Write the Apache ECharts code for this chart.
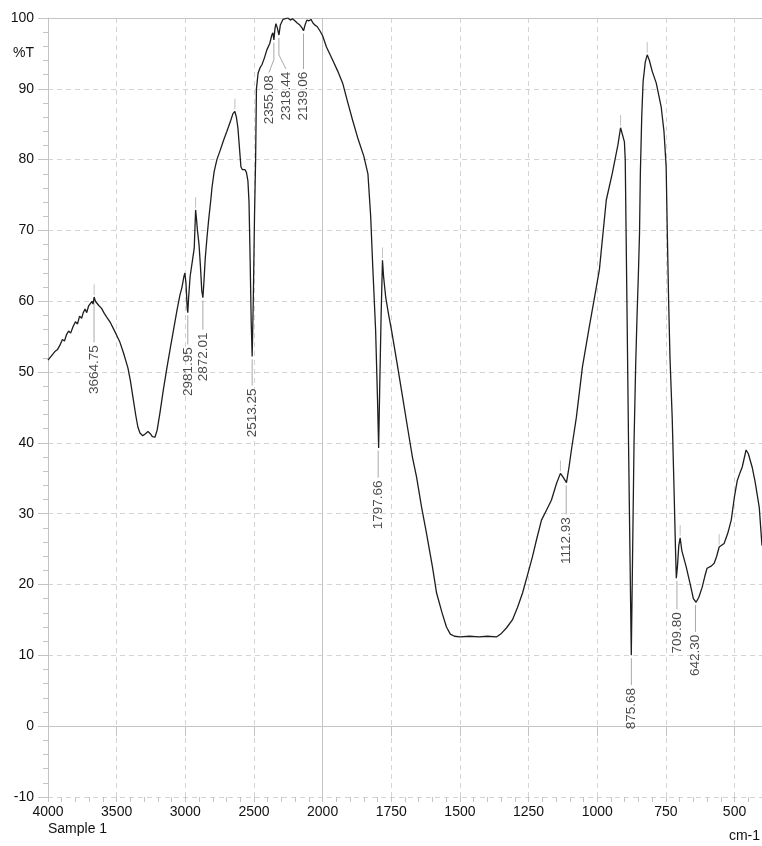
<!DOCTYPE html>
<html>
<head>
<meta charset="utf-8">
<script src="https://cdn.jsdelivr.net/npm/echarts@6/dist/echarts.min.js"></script>
<style>
html,body{margin:0;padding:0;background:#fff;}
#chart{width:762px;height:846px;}
</style>
</head>
<body>
<div id="chart"></div>
<script>
// spectrum, wavenumber (cm-1) and %T
var specWn = [4000,3975,3950,3930,3913,3895,3880,3865,3850,3835,3818,3800,3785,3770,3755,3745,3730,3718,3705,3694,3680,3672,3664,3655,3645,3630,3610,3590,3570,3549,3520,3500,3476,3450,3418,3400,3381,3360,3345,3330,3310,3290,3272,3255,3240,3221,3205,3185,3160,3134,3110,3090,3060,3040,3024,3010,3003,2995,2986,2982,2976,2965,2950,2935,2925,2918,2912,2900,2890,2880,2872,2865,2855,2843,2830,2815,2806,2790,2770,2748,2720,2697,2670,2653,2639,2628,2617,2605,2595,2585,2566,2555,2544,2536,2528,2520,2513,2505,2496,2488,2482,2470,2455,2442,2425,2406,2385,2370,2362,2355,2347,2340,2330,2318,2308,2289,2270,2253,2235,2220,2202,2185,2166,2150,2139,2128,2115,2100,2085,2070,2056,2040,2020,2000,1986,1964,1945,1927,1910,1891,1870,1850,1835,1825,1818,1807,1800,1796,1792,1787,1782,1778,1770,1760,1749,1730,1713,1690,1673,1658,1640,1622,1600,1585,1565,1549,1535,1520,1500,1465,1430,1400,1367,1349,1330,1309,1290,1272,1255,1236,1220,1203,1185,1167,1148,1134,1125,1112,1103,1094,1076,1054,1029,1010,992,967,945,925,915,908,901,898,895,891,886,881,876,871,866,860,855,850,846,843,838,833,825,818,810,800,785,767,757,749,745,740,735,727,720,715,712,708,703,698,692,676,660,650,640,630,618,608,600,585,574,565,556,538,525,512,500,490,480,472,465,458,450,436,425,410,400];
var specT = [51.7,52.3,52.9,53.2,53.8,54.6,54.4,55.3,55.8,55.5,56.4,57.1,56.8,57.9,57.6,58.3,58.9,58.4,59.3,59.1,60.0,59.6,60.6,60.0,60.2,59.4,59.0,58.3,57.7,57.1,56.0,55.2,54.2,52.7,50.6,48.8,46.4,43.8,42.2,41.4,41.0,41.3,41.6,41.3,40.9,40.8,41.8,44.2,47.5,50.6,53.3,55.5,58.8,60.8,62.0,63.5,64.0,62.5,59.0,58.4,60.5,63.5,65.5,67.5,72.9,71.5,70.1,68.0,65.0,61.5,60.5,62.5,66.0,68.8,71.5,74.2,76.0,78.3,80.0,81.2,82.8,84.0,85.5,86.5,86.8,86.0,84.5,81.5,79.0,78.6,78.6,78.2,77.0,74.0,66.0,57.0,52.2,60.0,72.0,80.0,90.0,92.2,93.0,93.4,94.3,95.5,96.4,97.6,97.9,96.9,98.5,99.2,98.6,97.6,99.0,99.8,99.9,100.0,99.7,99.9,99.6,99.3,99.0,98.6,98.2,99.0,99.7,99.6,99.8,99.3,99.0,98.8,98.2,97.5,95.9,94.1,92.5,90.8,88.3,85.6,82.8,80.5,78.0,72.0,65.4,55.9,46.0,39.3,48.0,58.0,65.8,63.5,60.5,58.2,55.9,51.5,47.5,42.0,38.0,35.2,31.0,27.3,22.5,18.8,16.0,14.0,13.0,12.7,12.6,12.7,12.6,12.7,12.6,13.1,13.9,15.0,16.8,18.8,21.2,23.9,26.5,29.1,30.5,31.9,34.3,35.7,35.2,34.4,36.5,39.0,43.6,50.7,56.4,60.5,64.5,74.3,78.1,82.0,84.5,84.3,82.5,80.0,70.0,57.0,40.0,25.0,10.0,25.0,40.0,51.0,58.0,64.0,69.6,78.0,86.0,91.0,93.8,94.8,94.0,92.5,90.8,87.4,84.0,79.0,70.0,60.0,52.0,43.6,33.0,25.0,20.9,22.5,25.5,26.6,24.8,22.5,19.8,18.0,17.5,18.2,19.6,21.2,22.3,22.6,23.0,24.0,25.3,25.8,27.2,29.1,32.5,34.7,35.8,36.6,37.8,39.0,38.5,36.6,34.5,30.9,25.5];

// peak annotations
var peakWn = [3664.75,2981.95,2872.01,2513.25,2355.08,2318.44,2139.06,1797.66,1112.93,875.68,709.80,642.30];
var peakT = [60.2,58.4,60.5,52.2,96.9,97.6,98.2,39.3,34.4,10.0,20.9,17.5];
var labelWn = [3664.75,2981.95,2872.01,2513.25,2391,2267,2139.06,1797.66,1112.93,875.68,709.80,642.30];
var labelTopT = [53.8,53.5,55.6,47.7,91.9,92.4,92.4,34.7,29.5,5.4,16.1,12.9];

// small marks above maxima
var maxWn = [3664,2925,2639,1782,1134,915,818,698,556];
var maxT = [60.6,72.9,86.8,65.8,35.7,84.5,94.8,26.6,25.3];

var xTickWn = [500,750,1000,1250,1500,1750,2000,2500,3000,3500,4000];

// 4000-2000 is drawn at half the scale of 2000-400
function toU(wn){ return wn <= 2000 ? wn : 2000 + (wn - 2000) / 2; }
function fromU(u){ return u <= 2000 ? u : 2000 + (u - 2000) * 2; }

var minorU = [];
for (var u = 400; u <= 3000; u += 50) minorU.push(u);

var font = 'Liberation Sans, Arial, sans-serif';
var gridCol = '#d4d4d4';
var axisCol = '#c4c4c4';

var leaders = peakWn.map(function(w, i){
    var c = [[toU(w), peakT[i] - 0.4]];
    if (labelWn[i] !== w) {
        c.push([toU(w), peakT[i] - 2.8]);
    }
    c.push([toU(labelWn[i]), labelTopT[i] + 0.4]);
    return {coords: c};
});
var maxMarks = maxWn.map(function(w, i){
    return {coords: [[toU(w), maxT[i] + 0.3], [toU(w), maxT[i] + 1.8]]};
});

var myChart = echarts.init(document.getElementById('chart'));
var option = {
    backgroundColor: '#fff',
    animation: false,
    grid: {left: 48, right: 0, top: 18, bottom: 49},
    xAxis: [
        {
            type: 'value', min: 400, max: 3000, inverse: true, position: 'bottom',
            axisLine: {show: true, lineStyle: {color: axisCol}},
            axisTick: {show: true, length: 10, customValues: xTickWn.map(toU), lineStyle: {color: axisCol}},
            axisLabel: {
                customValues: xTickWn.map(toU),
                formatter: function(v){ return String(Math.round(fromU(v))); },
                color: '#111', fontSize: 14, fontFamily: font, margin: 8
            },
            splitLine: {show: true, lineStyle: {type: [5, 4], color: gridCol}}
        },
        {
            type: 'value', min: 400, max: 3000, inverse: true, position: 'bottom',
            axisLine: {show: false},
            axisTick: {show: true, length: 5, customValues: minorU, lineStyle: {color: axisCol}},
            axisLabel: {show: false},
            splitLine: {show: false}
        },
        {
            type: 'value', min: 400, max: 3000, inverse: true, position: 'top',
            axisLine: {show: true, lineStyle: {color: axisCol}},
            axisTick: {show: false},
            axisLabel: {show: false},
            splitLine: {show: false}
        }
    ],
    yAxis: {
        type: 'value', min: -10, max: 100, interval: 10,
        axisLine: {show: true, lineStyle: {color: axisCol}},
        axisTick: {show: true, length: 10, lineStyle: {color: axisCol}},
        minorTick: {show: true, splitNumber: 5, length: 5, lineStyle: {color: axisCol}},
        axisLabel: {color: '#111', fontSize: 14, fontFamily: font, margin: 14},
        splitLine: {show: true, lineStyle: {type: [5, 4], color: gridCol}}
    },
    graphic: [
        {type: 'text', x: 34, y: 53, style: {text: '%T', font: '14px ' + font, fill: '#111', textAlign: 'right', textVerticalAlign: 'middle'}},
        {type: 'text', x: 48, y: 822, style: {text: 'Sample 1', font: '14px ' + font, fill: '#111', textAlign: 'left', textVerticalAlign: 'top'}},
        {type: 'text', x: 760, y: 829, style: {text: 'cm-1', font: '14px ' + font, fill: '#111', textAlign: 'right', textVerticalAlign: 'top'}}
    ],
    series: [
        {
            type: 'line',
            data: specWn.map(function(w, i){ return [toU(w), specT[i]]; }),
            showSymbol: false, symbol: 'none',
            lineStyle: {color: '#1e1e1e', width: 1.3},
            z: 5,
            markLine: {
                silent: true, symbol: 'none', label: {show: false},
                lineStyle: {type: 'solid', color: axisCol, width: 1},
                data: [{xAxis: toU(2000)}]
            }
        },
        {
            type: 'lines', coordinateSystem: 'cartesian2d', polyline: true,
            data: leaders,
            lineStyle: {color: '#a8a8a8', width: 1, opacity: 1},
            silent: true, z: 3
        },
        {
            type: 'lines', coordinateSystem: 'cartesian2d', polyline: true,
            data: maxMarks,
            lineStyle: {color: '#c0c0c0', width: 1, opacity: 1},
            silent: true, z: 3
        },
        {
            type: 'scatter',
            data: labelWn.map(function(w, i){
                return {name: peakWn[i].toFixed(2), value: [toU(w), labelTopT[i]]};
            }),
            symbolSize: 1,
            itemStyle: {color: 'rgba(0,0,0,0)'},
            label: {
                show: true, position: 'inside', rotate: 90,
                align: 'right', verticalAlign: 'middle',
                formatter: function(p){ return p.name; },
                color: '#1a1a1a', fontSize: 13.5, fontFamily: font
            },
            silent: true, z: 6
        }
    ]
};
myChart.setOption(option);
</script>
</body>
</html>
